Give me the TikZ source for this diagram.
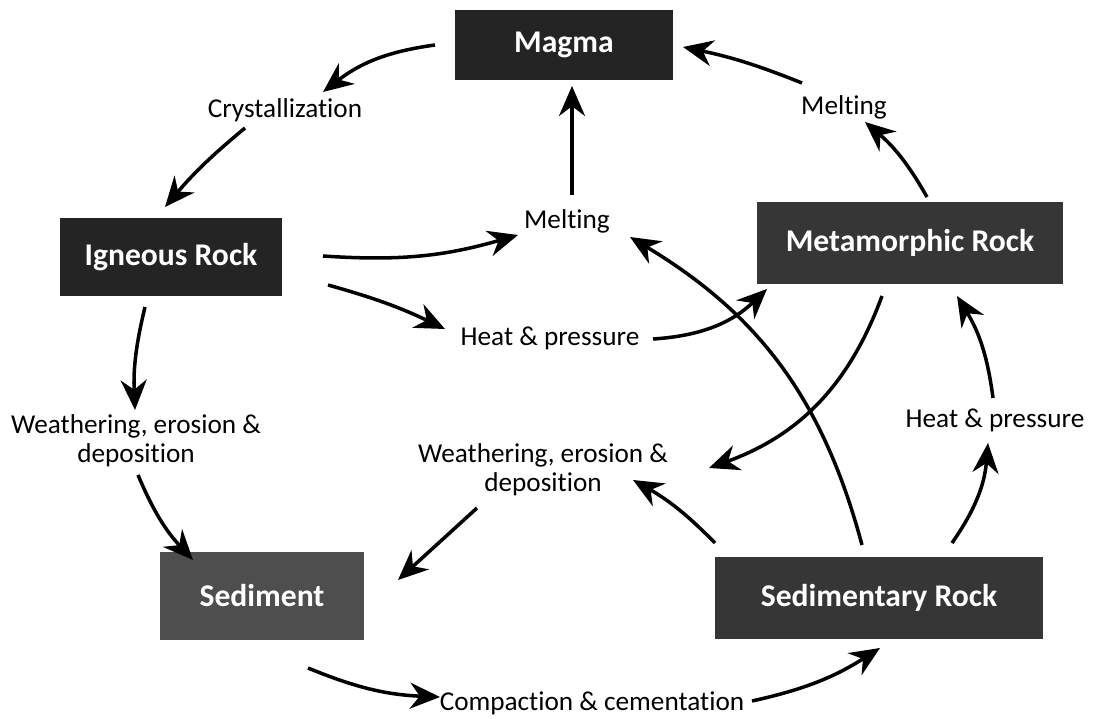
\documentclass[tikz,border=0pt]{standalone}
\usepackage{fontspec}
\setmainfont{Carlito}[Ligatures=NoCommon]
\usepackage{tikz}
\usetikzlibrary{arrows.meta,calc}

\definecolor{rockdark}{HTML}{242424}
\definecolor{rockmid}{HTML}{363636}
\definecolor{rocklight}{HTML}{4E4E4E}

\tikzset{
  rockbox/.style={fill=#1, text=white, font=\fontsize{18}{21}\selectfont\bfseries, inner sep=0pt},
  proc/.style={font=\fontsize{15.5}{16.5}\selectfont, inner sep=0pt, align=center},
  flow/.style={line width=2pt, -{Stealth[length=6mm,width=5.2mm]}},
}

\begin{document}
\begin{tikzpicture}[x=0.02cm, y=-0.02cm]
		\useasboundingbox (0,0) rectangle (1096,719);

		% rocks
		\node[rockbox=rockdark, minimum width=4.36cm, minimum height=1.42cm] (magma) at (564,45) {Magma};
		\node[rockbox=rockdark, minimum width=4.44cm, minimum height=1.58cm] (igneous) at (171,257) {Igneous Rock};
		\node[rockbox=rockmid, minimum width=6.12cm, minimum height=1.66cm] (metam) at (910,243) {Metamorphic Rock};
		\node[rockbox=rocklight, minimum width=4.1cm, minimum height=1.76cm] (sediment) at (262,596) {Sediment};
		\node[rockbox=rockmid, minimum width=6.56cm, minimum height=1.66cm] (sedrock) at (879,598) {Sedimentary Rock};

		% processes
		\node[proc] (cryst) at (285,110) {Crystallization};
		\node[proc] (meltT) at (844,107) {Melting};
		\node[proc] (meltM) at (567,221) {Melting};
		\node[proc] (heatM) at (550,338) {Heat \& pressure};
		\node[proc] (heatR) at (995,420) {Heat \& pressure};
		\node[proc] (weathL) at (136,441) {Weathering, erosion \&\\deposition};
		\node[proc] (weathM) at (543,470) {Weathering, erosion \&\\deposition};
		\node[proc] (compact) at (592,703) {Compaction \& cementation};

		% arrows
		\draw[flow] ($(magma)+(-129,0)$) to[bend right=15] ($(cryst)+(38,-18)$);
		\draw[flow] ($(cryst)+(-40,18)$) to[bend right=5] ($(igneous)+(-6,-50)$);
		\draw[flow] ($(igneous)+(152,-1)$) to[bend right=10] ($(meltM)+(-49,14)$);
		\draw[flow] ($(igneous)+(157,28)$) to[bend left=5] ($(heatM)+(-105,-9)$);
		\draw[flow] ($(heatM)+(103,1)$) to[bend right=20] ($(metam)+(-143,46)$);
		\draw[flow] ($(meltM)+(5,-26)$) -- ($(magma)+(8,41)$);
		\draw[flow] ($(metam)+(17,-46)$) to[bend right=10] ($(meltT)+(21,15)$);
		\draw[flow] ($(meltT)+(-42,-24)$) to[bend right=5] ($(magma)+(119,2)$);
		\draw[flow] ($(sedrock)+(-17,-53)$) to[bend right=22] ($(meltM)+(63,16)$);
		\draw[flow] ($(metam)+(-28,53)$) to[bend left=25] ($(weathM)+(166,-2)$);
		\draw[flow] ($(sedrock)+(73,-55)$) to[bend right=15] ($(heatR)+(-7,23)$);
		\draw[flow] ($(heatR)+(-2,-22)$) to[bend right=12] ($(metam)+(47,53)$);
		\draw[flow] ($(sedrock)+(-164,-55)$) to[bend right=8] ($(weathM)+(90,10)$);
		\draw[flow] ($(weathM)+(-66,38)$) -- ($(sediment)+(136,-16)$);
		\draw[flow] ($(igneous)+(-26,50)$) to[bend right=8] ($(weathL)+(-1,-31)$);
		\draw[flow] ($(weathL)+(2,34)$) to[bend right=10] ($(sediment)+(-69,-36)$);
		\draw[flow] ($(sediment)+(46,72)$) to[bend right=10] ($(compact)+(-152,-6)$);
		\draw[flow] ($(compact)+(160,-2)$) to[bend right=10] ($(sedrock)+(1,50)$);
	\end{tikzpicture}
\end{document}
